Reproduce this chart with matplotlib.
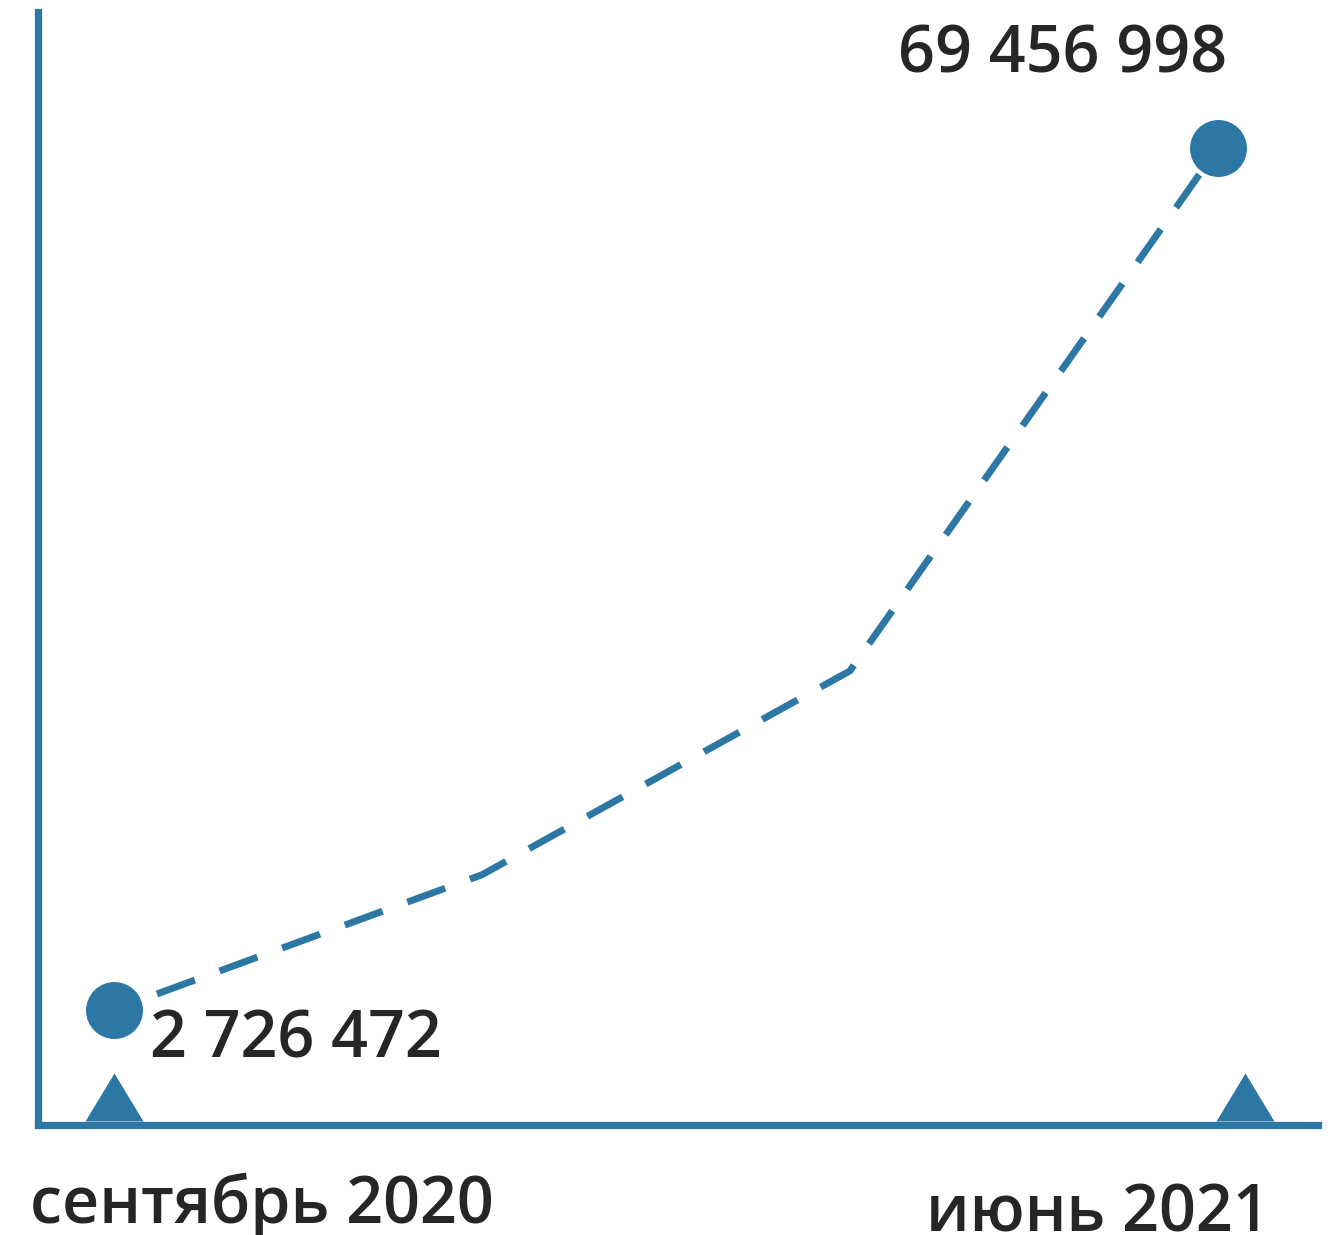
import matplotlib
matplotlib.use("Agg")
import matplotlib.pyplot as plt

# quarterly points, values in millions
quarters = [0, 1, 2, 3]
values = [2.726472, 13.18, 28.97, 69.456998]
value_labels = ["2 726 472", "69 456 998"]
date_labels = ["сентябрь 2020", "июнь 2021"]

blue = "#2c77a4"
ink = "#262626"
plt.rcParams['font.family'] = ['Open Sans', 'DejaVu Sans']

fig = plt.figure(figsize=(13.42, 12.35), dpi=100)
ax = fig.add_axes([38 / 1342, 110 / 1235, 1280 / 1342, 1113 / 1235])
ax.set_xlim(-0.2065, 3.272)
ax.set_ylim(-6.2, 80.0)

for side in ['top', 'right']:
    ax.spines[side].set_visible(False)
for side in ['left', 'bottom']:
    ax.spines[side].set_color(blue)
    ax.spines[side].set_linewidth(5.2)
ax.set_xticks([])
ax.set_yticks([])

ax.plot(quarters, values, color=blue, lw=5, linestyle=(3, (5.8, 3.8)), dash_capstyle='butt')
ax.plot([quarters[0], quarters[-1]], [values[0], values[-1]], 'o', color=blue,
        markersize=41, markeredgewidth=0, zorder=5)

# triangles sitting on the baseline
tri = [(-29, -24), (29, -24), (0, 24)]
ax.plot([quarters[0], quarters[-1] + 0.073], [-4.0, -4.0], linestyle='none', marker=tri,
        markersize=41.8, color=blue, markeredgewidth=0, clip_on=False, zorder=5)

fs = 46.5
ax.annotate(value_labels[0], (quarters[0], values[0]), xytext=(25.9, -34.6),
            textcoords='offset points', ha='left', va='baseline',
            fontsize=fs, fontweight='semibold', color=ink)
ax.annotate(value_labels[1], (quarters[-1], values[-1]), xytext=(-111.6, 54.7),
            textcoords='offset points', ha='center', va='baseline',
            fontsize=fs, fontweight='semibold', color=ink)

fig.text(262 / 1342, 1 - 1223 / 1235, date_labels[0], ha='center', va='baseline',
         fontsize=fs, fontweight='semibold', color=ink)
fig.text(1270 / 1342, 1 - 1231 / 1235, date_labels[1], ha='right', va='baseline',
         fontsize=fs, fontweight='semibold', color=ink)

fig.savefig("out.png", dpi=100, facecolor='white')
